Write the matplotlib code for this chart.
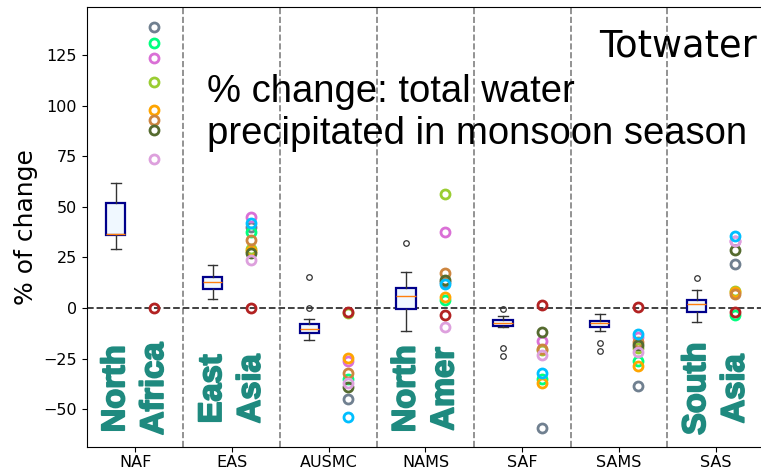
import numpy as np
import matplotlib
matplotlib.use('Agg')
import matplotlib.pyplot as plt
import matplotlib.patheffects as pe

# regions on the x axis
regions = ['NAF', 'EAS', 'AUSMC', 'NAMS', 'SAF', 'SAMS', 'SAS']
region_names = [('North', 'Africa'), ('East', 'Asia'), None, ('North', 'Amer'),
                None, None, ('South', 'Asia')]

# box statistics (% change)
box_whislo = [29, 4.6, -16, -11.4, -9.5, -11.4, -6.9]
box_q1 = [36, 9.3, -12.6, -0.3, -8.9, -9.4, -2.1]
box_med = [36.5, 12.7, -10.3, 5.8, -7.3, -7.6, 1.8]
box_q3 = [52, 15.2, -7.9, 9.9, -6, -6.3, 4]
box_whishi = [62, 21.3, -5.5, 17.9, -3.8, -3, 8.9]
box_fliers = [[], [], [15.5, 0], [32], [-0.5, -19.7, -23.6], [-17.5, -21.2], [14.7]]

# individual models
model_colors = ['slategray', 'springgreen', 'orchid', 'yellowgreen', 'orange',
                'peru', 'darkolivegreen', 'plum', 'firebrick', 'deepskyblue']
model_vals = {
    'slategray':      [139, 40, -44.8, 13, -59.5, -38.5, 21.7],
    'springgreen':    [131, 37.5, -35, 4, -35, -26, -3.5],
    'orchid':         [123.5, 45, -26, 37.7, -16.2, -14.5, 32.9],
    'yellowgreen':    [111.6, 29, -2.3, 56.5, -21, -20, 8.6],
    'orange':         [98, 28, -24.5, 5.6, -36.9, -28.6, 8],
    'peru':           [93, 33.7, -32, 17.2, -20.5, -16.7, 6.8],
    'darkolivegreen': [87.8, 27.4, -39, 13.9, -11.7, -18.3, 28.8],
    'plum':           [73.4, 23.8, -37, -9.6, -23.3, -21.7, 33],
    'firebrick':      [0, 0, -2, -3.5, 1.5, 0.7, -1.8],
    'deepskyblue':    [np.nan, 42, -54, 12, -32, -13, 35.4],
}

fig = plt.figure(figsize=(7.61, 4.69), dpi=100)
ax = fig.add_axes([0.1139, 0.0475, 0.8904, 0.9369])

x = np.arange(len(regions))

stats = []
for i in range(len(regions)):
    stats.append({'whislo': box_whislo[i], 'q1': box_q1[i], 'med': box_med[i],
                  'q3': box_q3[i], 'whishi': box_whishi[i], 'fliers': box_fliers[i]})
ax.bxp(stats, positions=x - 0.2, widths=0.2, patch_artist=True,
       boxprops=dict(facecolor='aliceblue', edgecolor='darkblue', linewidth=1.6),
       medianprops=dict(color='#ff7f0e', linewidth=1.0),
       whiskerprops=dict(color='#333333', linewidth=1.0),
       capprops=dict(color='#333333', linewidth=1.0),
       flierprops=dict(marker='o', markersize=4, markerfacecolor='none',
                       markeredgecolor='#333333', markeredgewidth=0.9),
       zorder=3)

for c in model_colors:
    ax.plot(x + 0.2, model_vals[c], 'o', ls='none', markersize=6.5,
            markerfacecolor='none', markeredgecolor=c, markeredgewidth=2.0, zorder=4)

ax.axhline(0, color='#333333', ls='--', lw=1.3, zorder=2)
for i in range(len(regions) - 1):
    ax.axvline(i + 0.5, color='gray', ls='--', lw=1.2, zorder=1)

# big rotated region names (stroke makes them heavier, like the original)
teal = '#1f8a7f'
for i, nm in enumerate(region_names):
    if nm is None:
        continue
    for dx, word in zip([-0.2, 0.2], nm):
        ax.text(i + dx, -40, word, rotation=90, ha='center', va='center',
                color=teal, fontsize=23.5, fontweight='bold',
                family=['Liberation Sans', 'DejaVu Sans'], zorder=5,
                path_effects=[pe.withStroke(linewidth=1.3, foreground=teal)])

ax.set_xlim(-0.5, 6.5)
ax.set_ylim(-68.6, 148.6)
ax.set_xticks(x)
ax.set_xticklabels(regions)
ax.set_yticks([-50, -25, 0, 25, 50, 75, 100, 125])
ax.tick_params(labelsize=11.5)
ax.tick_params(axis='x', pad=2.5)
ax.set_ylabel('% of change', fontsize=18)

fig.text(0.272, 0.842, '% change: total water\nprecipitated in monsoon season',
         fontsize=27.5, family=['Liberation Sans', 'DejaVu Sans'], va='top', ha='left')
ax.text(0.99, 0.955, 'Totwater', transform=ax.transAxes, fontsize=26.5,
        ha='right', va='top')

fig.savefig('out.png', dpi=100)
